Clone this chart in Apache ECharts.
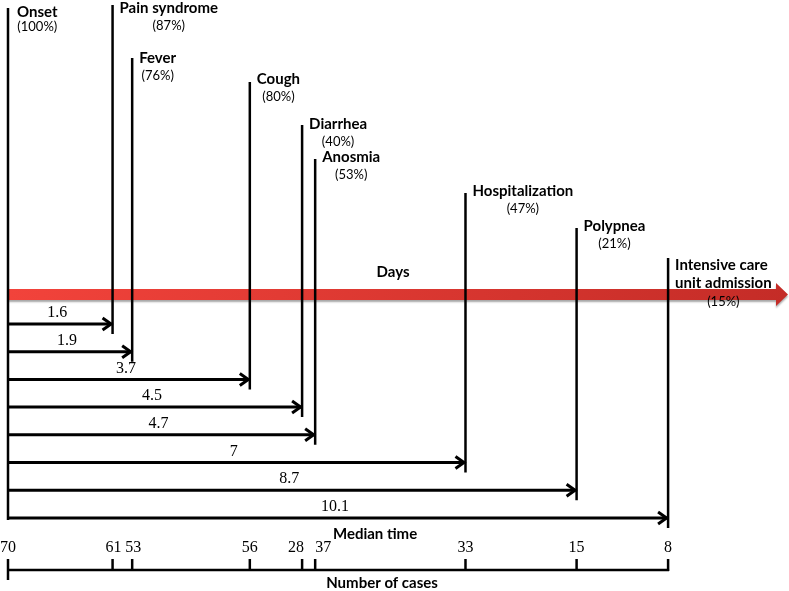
<!DOCTYPE html>
<html>
<head>
<meta charset="utf-8">
<script src="https://cdn.jsdelivr.net/npm/echarts@6/dist/echarts.min.js"></script>
<style>html,body{margin:0;padding:0;background:#fff}#c{width:789px;height:591px}</style>
</head>
<body>
<div id="c"></div>
<script>
// ---- data ----
const onsetName = 'Onset';
const onsetPercent = 100;
const onsetCases = 70;
const symptoms = ['Pain syndrome', 'Fever', 'Cough', 'Diarrhea', 'Anosmia', 'Hospitalization', 'Polypnea', 'Intensive care\nunit admission'];
const percents = [87, 76, 80, 40, 53, 47, 21, 15];
const medianDays = [1.6, 1.9, 3.7, 4.5, 4.7, 7, 8.7, 10.1];
const cases = [61, 53, 56, 28, 37, 33, 15, 8];
const axisTitle = 'Days';
const medianTitle = 'Median time';
const casesTitle = 'Number of cases';

// ---- layout (vertical positions in the pixel-like y scale) ----
const nameY = [8, 58, 79, 124, 157, 191, 226, 265];
const lineTop = [5, 58, 82, 125, 159, 193, 228, 258];
const caseLabelShift = [1, 1, 0, -6, 8, 0, 0, 0];
const arrowY0 = 324, rowGap = 27.7;
const NAME_FONT = 'bold 15px Lato';
const PCT_FONT = '13px Lato';
const NUM_FONT = '16px "Liberation Serif"';
const X_MAX = 11.95;

const measureCtx = document.createElement('canvas').getContext('2d');
function textWidth(text, font) {
  measureCtx.font = font;
  return Math.max.apply(null, text.split('\n').map(function (t) { return measureCtx.measureText(t).width; }));
}

function txt(x, y, text, font, align) {
  return { type: 'text', style: { x: x, y: y, text: text, font: font, fill: '#000', align: align || 'left', verticalAlign: 'middle', lineHeight: 18 } };
}
function ln(x1, y1, x2, y2, w) {
  return { type: 'line', shape: { x1: x1, y1: y1, x2: x2, y2: y2 }, style: { stroke: '#000', lineWidth: w || 2.5 } };
}

function renderSymptom(params, api) {
  const i = params.dataIndex;
  const d = api.value(0);
  const rowY = arrowY0 + i * rowGap;
  const p = api.coord([d, rowY]);
  const x = p[0], y = p[1];
  const x0 = api.coord([0, rowY])[0];
  const yTop = api.coord([d, lineTop[i]])[1];
  const yName = api.coord([d, nameY[i]])[1];
  const multi = symptoms[i].indexOf('\n') >= 0;
  const yPct = multi ? api.coord([d, 302])[1] : yName + 18;
  const yNum = api.coord([d, 548])[1];
  const yBr = api.coord([d, 570])[1];
  const ch = [];
  ch.push(ln(x, yTop, x, y + 10, 2.5));
  ch.push(ln(x0, y, x - 1, y, 3));
  ch.push({ type: 'polyline', shape: { points: [[x - 10, y - 6], [x - 1.5, y], [x - 10, y + 6]] }, style: { stroke: '#000', lineWidth: 3, fill: null } });
  ch.push(txt((x0 + x) / 2 - 3, y - 11, String(d), NUM_FONT, 'center'));
  const nx = x + 7;
  const w = textWidth(symptoms[i], NAME_FONT);
  ch.push({ type: 'text', style: { x: nx, y: multi ? yName + 9 : yName, text: symptoms[i], font: NAME_FONT, fill: '#000', align: 'left', verticalAlign: 'middle', lineHeight: 18 } });
  ch.push(txt(nx + w / 2, yPct, '(' + percents[i] + '%)', PCT_FONT, 'center'));
  // bottom tick + number of cases
  ch.push(ln(x, yBr - 11, x, yBr + (i === symptoms.length - 1 ? 1 : 0), 2.5));
  ch.push(txt(x + caseLabelShift[i], yNum, String(cases[i]), NUM_FONT, 'center'));
  return { type: 'group', children: ch };
}

function renderFrame(params, api) {
  const o = api.coord([0, 0]);
  const x0 = o[0];
  const xEnd = api.coord([medianDays[medianDays.length - 1], 0])[0];
  const ch = [];
  // red days arrow
  const yA = api.coord([0, 289])[1], yB = api.coord([0, 300])[1];
  const tip = api.coord([X_MAX, 0])[0] - 1;
  const base = tip - 12;
  const grad = new echarts.graphic.LinearGradient(0, 0, 1, 0, [{ offset: 0, color: '#f2433b' }, { offset: 1, color: '#c42c27' }]);
  ch.push({ type: 'polygon', shape: { points: [[x0, yA], [base, yA], [base, yA - 6], [tip, (yA + yB) / 2], [base, yB + 6], [base, yB], [x0, yB]] },
    style: { fill: grad, shadowColor: 'rgba(0,0,0,0.35)', shadowBlur: 2, shadowOffsetY: 2 } });
  ch.push(txt((x0 + xEnd) / 2 + 55, api.coord([0, 272])[1], axisTitle, NAME_FONT, 'center'));
  // onset line + labels
  ch.push(ln(x0, api.coord([0, 8])[1], x0, api.coord([0, 520])[1], 2.5));
  const ow = textWidth(onsetName, NAME_FONT);
  ch.push(txt(x0 + 9, api.coord([0, 12])[1], onsetName, NAME_FONT, 'left'));
  ch.push(txt(x0 + 9 + ow / 2, api.coord([0, 27])[1], '(' + onsetPercent + '%)', PCT_FONT, 'center'));
  // median time title
  ch.push(txt((x0 + xEnd) / 2 + 37, api.coord([0, 534])[1], medianTitle, NAME_FONT, 'center'));
  // cases bracket
  const yBr = api.coord([0, 570])[1];
  ch.push(ln(x0, yBr, xEnd + 1, yBr, 2.5));
  ch.push(ln(x0, yBr - 11, x0, yBr + 10, 2.5));
  ch.push(txt(x0, api.coord([0, 548])[1], String(onsetCases), NUM_FONT, 'center'));
  ch.push(txt((x0 + xEnd) / 2 + 44, api.coord([0, 583])[1], casesTitle, NAME_FONT, 'center'));
  return { type: 'group', children: ch };
}

const chart = echarts.init(document.getElementById('c'), null, { renderer: 'canvas' });
chart.setOption({
  animation: false,
  grid: { left: 8, right: 0, top: 0, bottom: 0 },
  xAxis: { type: 'value', min: 0, max: X_MAX, show: false },
  yAxis: { type: 'value', min: 0, max: 591, inverse: true, show: false },
  series: [
    { type: 'custom', renderItem: renderFrame, data: [[0, 0]], clip: false, z: 1 },
    { type: 'custom', renderItem: renderSymptom, data: medianDays.map(function (d, i) { return [d, i]; }), clip: false, z: 2 }
  ]
});
</script>
</body>
</html>
